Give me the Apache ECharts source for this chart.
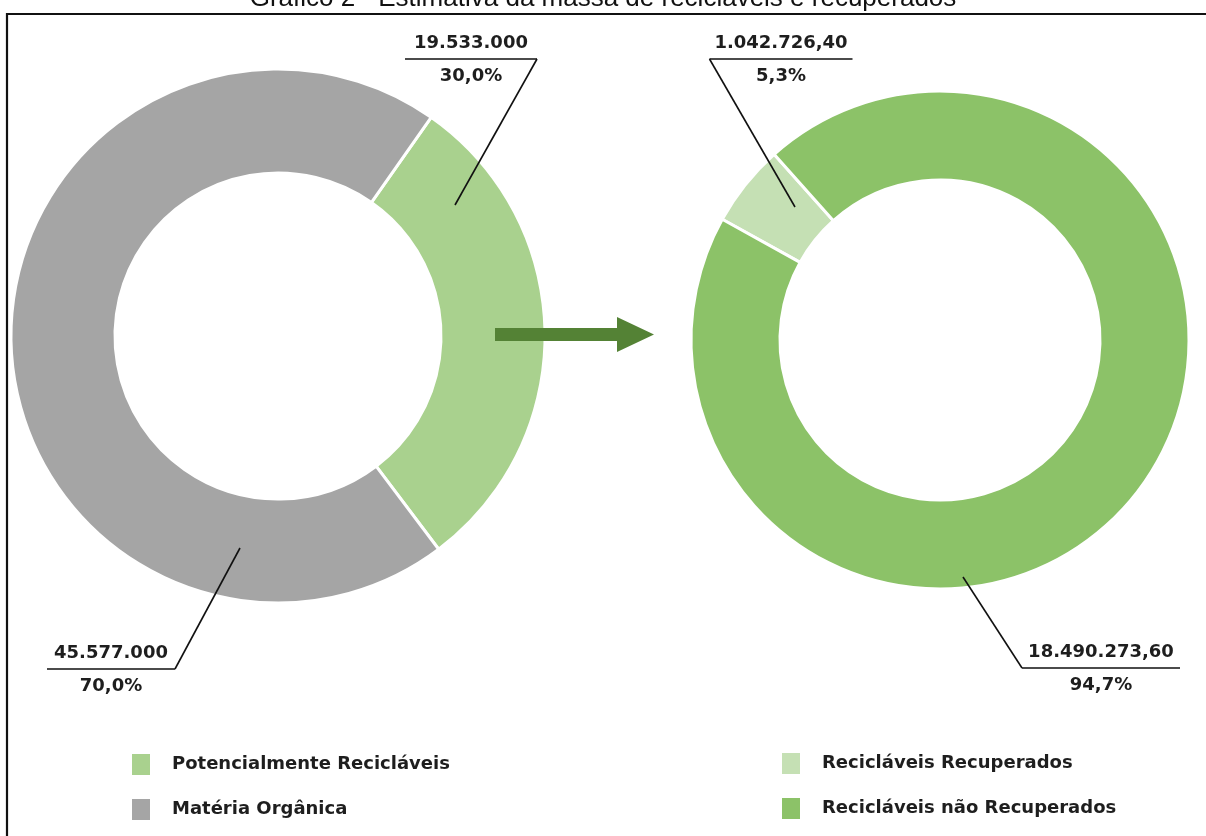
<!DOCTYPE html>
<html><head><meta charset="utf-8">
<script src="https://cdn.jsdelivr.net/npm/echarts@6/dist/echarts.min.js"></script>
<style>html,body{margin:0;padding:0;background:#fff}#c{width:1206px;height:836px}</style>
</head><body><div id="c"></div>
<script>
// ---- data ----
const titleText = 'Gráfico 2 - Estimativa da massa de recicláveis e recuperados';
const leftNames = ['Potencialmente Recicláveis', 'Matéria Orgânica'];
const leftValues = [19533000, 45577000];
const leftDecimals = 0;
const rightNames = ['Recicláveis Recuperados', 'Recicláveis não Recuperados'];
const rightValues = [1042726.40, 18490273.60];
const rightDecimals = 2;

// ---- styles / layout ----
const leftColors = ['#A9D18E', '#A5A5A5'];
const rightColors = ['#C5E0B4', '#8CC268'];
const labelFont = 'DejaVu Sans';
const vLineHeight = 31, pLineHeight = 35;
const leftLabelPos = [
  {x: 471, y: 59, w: 132, side: 'right', to: [455, 205]},
  {x: 111, y: 669, w: 128, side: 'right', to: [240, 548]}
];
const rightLabelPos = [
  {x: 781, y: 59, w: 143, side: 'left', to: [795, 207]},
  {x: 1101, y: 668, w: 158, side: 'left', to: [963, 577]}
];

function fmtBR(v, dec) {
  const s = v.toFixed(dec);
  const parts = s.split('.');
  const ii = parts[0].replace(/\B(?=(\d{3})+(?!\d))/g, '.');
  return parts[1] ? ii + ',' + parts[1] : ii;
}

function makeRich(pos) {
  const rich = {
    v: {fontFamily: labelFont, fontWeight: 'bold', fontSize: 18, color: '#1e1e1e', lineHeight: vLineHeight, align: 'center'},
    p: {fontFamily: labelFont, fontWeight: 'bold', fontSize: 18, color: '#1e1e1e', lineHeight: pLineHeight, align: 'center'}
  };
  pos.forEach((p, i) => {
    rich['hr' + i] = {width: p.w, height: 0, borderColor: '#111', borderWidth: 1.7};
  });
  return rich;
}

function pieData(names, values, colors) {
  return names.map((n, i) => ({name: n, value: values[i], itemStyle: {color: colors[i]}}));
}

// visible donut
function makeSeries(names, values, colors, center, radius, startAngle) {
  return {
    type: 'pie', z: 2,
    center: center, radius: radius, startAngle: startAngle, clockwise: true,
    avoidLabelOverlap: false, animation: false,
    emphasis: {disabled: true},
    itemStyle: {borderColor: '#fff', borderWidth: 3},
    label: {show: false}, labelLine: {show: false},
    data: pieData(names, values, colors)
  };
}

// same data drawn on top, transparent, carrying labels and leader lines
function makeLabelSeries(names, values, dec, pos, center, radius, startAngle) {
  return {
    type: 'pie', z: 5, silent: true,
    center: center, radius: radius, startAngle: startAngle, clockwise: true,
    avoidLabelOverlap: false, animation: false,
    emphasis: {disabled: true},
    itemStyle: {color: 'rgba(0,0,0,0)', borderWidth: 0},
    data: names.map((n, i) => ({name: n, value: values[i]})),
    label: {
      show: true,
      position: 'outside',
      formatter: function (params) {
        return '{v|' + fmtBR(params.value, dec) + '}\n{hr' + params.dataIndex + '|}\n{p|' +
          params.percent.toFixed(1).replace('.', ',') + '%}';
      },
      rich: makeRich(pos)
    },
    labelLine: {show: true, lineStyle: {color: '#111', width: 1.6}},
    labelLayout: function (params) {
      const p = pos[params.dataIndex];
      const ex = p.side === 'right' ? p.x + p.w / 2 : p.x - p.w / 2;
      return {
        x: p.x, y: p.y + (pLineHeight - vLineHeight) / 2, align: 'center', verticalAlign: 'middle',
        labelLinePoints: [p.to, [ex, p.y], [ex, p.y]]
      };
    }
  };
}

const leftCenter = [278, 336], leftRadius = [163, 267], leftStart = 55;
const rightCenter = [940, 340], rightRadius = [160, 249], rightStart = 151;

const chart = echarts.init(document.getElementById('c'), null, {renderer: 'canvas'});
const legendText = {fontFamily: labelFont, fontWeight: 'bold', fontSize: 18, color: '#1e1e1e', padding: [0, 0, 0, 17]};
chart.setOption({
  backgroundColor: '#fff',
  animation: false,
  title: {
    text: titleText, left: 'center', top: -19,
    textStyle: {fontFamily: 'Liberation Sans', fontSize: 26, fontWeight: 'normal', color: '#111'}
  },
  legend: [
    {
      data: leftNames, orient: 'vertical', left: 127, top: 749, icon: 'rect',
      itemWidth: 18, itemHeight: 21, itemGap: 24, selectedMode: false,
      itemStyle: {borderWidth: 0}, textStyle: legendText
    },
    {
      data: rightNames, orient: 'vertical', left: 777, top: 748, icon: 'rect',
      itemWidth: 18, itemHeight: 21, itemGap: 24, selectedMode: false,
      itemStyle: {borderWidth: 0}, textStyle: legendText
    }
  ],
  series: [
    makeSeries(leftNames, leftValues, leftColors, leftCenter, leftRadius, leftStart),
    makeSeries(rightNames, rightValues, rightColors, rightCenter, rightRadius, rightStart),
    makeLabelSeries(leftNames, leftValues, leftDecimals, leftLabelPos, leftCenter, leftRadius, leftStart),
    makeLabelSeries(rightNames, rightValues, rightDecimals, rightLabelPos, rightCenter, rightRadius, rightStart)
  ],
  graphic: [
    {type: 'line', z: 100, shape: {x1: 6, y1: 14, x2: 1206, y2: 14}, style: {stroke: '#111', lineWidth: 2.2}},
    {type: 'line', z: 100, shape: {x1: 7, y1: 13, x2: 7, y2: 836}, style: {stroke: '#111', lineWidth: 2.2}},
    {type: 'polygon', z: 100, shape: {points: [[495, 328], [617, 328], [617, 317], [654, 334.5], [617, 352], [617, 341], [495, 341]]},
      style: {fill: '#548235'}}
  ]
});
</script>
</body></html>
